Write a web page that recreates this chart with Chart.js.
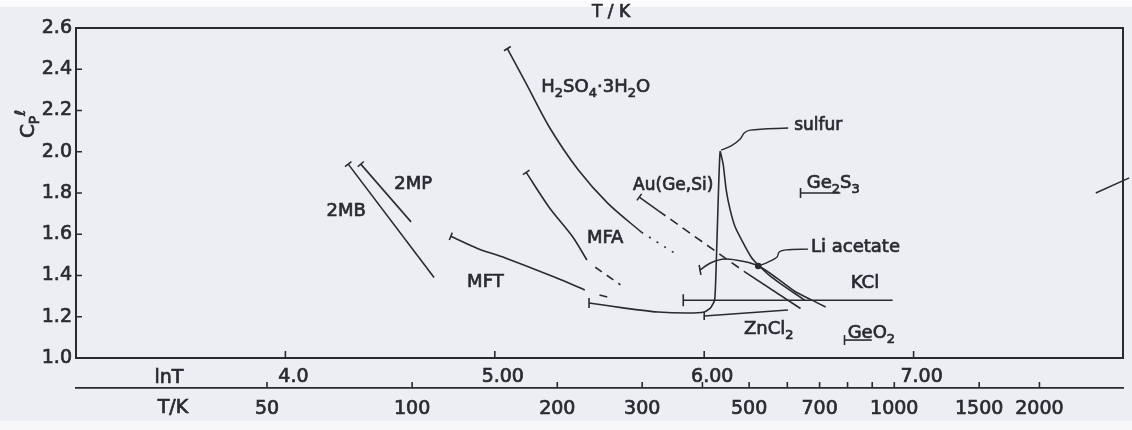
<!DOCTYPE html>
<html>
<head>
<meta charset="utf-8">
<script src="https://cdn.jsdelivr.net/npm/chart.js@4.4.1/dist/chart.umd.min.js"></script>
<style>
    html, body { margin: 0; padding: 0; }
    body {
        width: 1132px;
        height: 430px;
        background: linear-gradient(#fbfbfd 0, #fbfbfd 7px, #eceef3 7px, #eceef3 421px, #f7f7f9 421px);
    }
    canvas { display: block; }
</style>
</head>
<body>
<canvas id="grafico" width="1132" height="430"></canvas>
<script>
// Marcas del eje ln T y de la escala T/K
const lnTicks = [4, 5, 6, 7];
const lnTickLabels = ['4.0', '5.00', '6.00', '7.00'];
const tempTicks = [50, 100, 200, 300, 400, 500, 600, 700, 800, 900, 1000, 1500, 2000];
const tempTickLabels = ['50', '100', '200', '300', '', '500', '', '700', '', '', '1000', '1500', '2000'];
const cpTicks = [1.0, 1.2, 1.4, 1.6, 1.8, 2.0, 2.2, 2.4, 2.6];

// Cp(liq)/Cp(vidrio) frente a ln T
const mb2LnT = [4.30, 4.71];
const mb2Cp = [1.94, 1.39];
const mp2LnT = [4.36, 4.60];
const mp2Cp = [1.94, 1.66];
const mftLnT = [4.79, 4.92, 5.05, 5.29, 5.43];
const mftCp = [1.59, 1.53, 1.485, 1.39, 1.33];
const mftExtLnT = [5.50, 5.56];
const mftExtCp = [1.305, 1.29];
const mfaLnT = [5.15, 5.26, 5.37, 5.44];
const mfaCp = [1.90, 1.73, 1.59, 1.475];
const mfaExtLnT = [5.48, 5.60];
const mfaExtCp = [1.44, 1.355];
const h2so4LnT = [5.06, 5.15, 5.26, 5.40, 5.54, 5.70];
const h2so4Cp = [2.50, 2.33, 2.12, 1.91, 1.75, 1.61];
const h2so4ExtLnT = [5.70, 5.88];
const h2so4ExtCp = [1.61, 1.495];
const auLnT = [5.69, 5.78];
const auCp = [1.78, 1.715];
const auDashLnT = [5.78, 6.19];
const auDashCp = [1.715, 1.42];
const auTailLnT = [6.19, 6.46];
const auTailCp = [1.42, 1.24];
const sulfurLnT = [5.45, 5.62, 5.78, 5.92, 6.00, 6.03, 6.05, 6.057, 6.067, 6.076, 6.091, 6.105, 6.124, 6.148, 6.186, 6.224, 6.258, 6.32, 6.40, 6.48];
const sulfurCp = [1.267, 1.242, 1.223, 1.218, 1.223, 1.242, 1.281, 1.44, 1.77, 2.00, 1.936, 1.815, 1.718, 1.635, 1.558, 1.49, 1.451, 1.393, 1.335, 1.281];
const liAcLnT = [5.98, 6.03, 6.10, 6.19, 6.26, 6.35, 6.43, 6.51, 6.58];
const liAcCp = [1.427, 1.461, 1.48, 1.468, 1.446, 1.385, 1.325, 1.283, 1.247];
const kclLnT = [5.90, 6.90];
const kclCp = [1.28, 1.28];
const zncl2LnT = [6.00, 6.40];
const zncl2Cp = [1.204, 1.233];
const ge2s3LnT = [6.46, 6.65];
const ge2s3Cp = [1.80, 1.80];
const geo2LnT = [6.67, 6.80];
const geo2Cp = [1.087, 1.087];

// Líneas guía de las etiquetas y trazo en el borde derecho
const sulfurLeadLnT = [6.081, 6.129, 6.172, 6.191, 6.220, 6.401];
const sulfurLeadCp = [2.008, 2.028, 2.062, 2.091, 2.105, 2.115];
const liLeadLnT = [6.258, 6.305, 6.348, 6.358, 6.391, 6.496];
const liLeadCp = [1.446, 1.465, 1.490, 1.514, 1.524, 1.528];
const edgeLnT = [7.87, 8.03];
const edgeCp = [1.80, 1.873];

const INK = '#2a2a31';
const FONT = '"DejaVu Sans", sans-serif';

function pts(xs, ys) {
    return xs.map(function(x, i) { return { x: x, y: ys[i] }; });
}

// Curva con la marca de Tg en el primer punto
function curve(xs, ys, opts) {
    opts = opts || {};
    return {
        data: pts(xs, ys),
        showLine: true,
        borderColor: INK,
        borderWidth: opts.width || 1.6,
        borderDash: opts.dash || [],
        tension: opts.tension || 0,
        clip: opts.clip === undefined ? 0 : opts.clip,
        pointStyle: opts.cap === undefined ? 'circle' : 'line',
        rotation: opts.cap || 0,
        pointRadius: function(ctx) {
            if (opts.dot && ctx.dataIndex === 0) return 2.5;
            return (opts.cap !== undefined && ctx.dataIndex === 0) ? (opts.capSize || 5) : 0;
        },
        pointBorderColor: INK,
        pointBackgroundColor: INK,
        pointBorderWidth: 1.6
    };
}

// Texto con subíndices: [texto, 1] = subíndice, [texto, -1] = superíndice
function drawRich(ctx, parts, x, y, size, align) {
    const base = size + 'px ' + FONT;
    const small = Math.round(size * 0.72) + 'px ' + FONT;
    let width = 0;
    parts.forEach(function(p) {
        ctx.font = p[1] ? small : base;
        width += ctx.measureText(p[0]).width;
    });
    let cx = align === 'center' ? x - width / 2 : x;
    ctx.textAlign = 'left';
    ctx.textBaseline = 'middle';
    ctx.lineWidth = 0.7;
    ctx.strokeStyle = INK;
    parts.forEach(function(p) {
        ctx.font = p[1] ? small : base;
        const dy = p[1] === 1 ? size * 0.34 : (p[1] === -1 ? -size * 0.36 : 0);
        ctx.fillText(p[0], cx, y + dy);
        ctx.strokeText(p[0], cx, y + dy);
        cx += ctx.measureText(p[0]).width;
    });
}

// Nombres de las sustancias (anclados en coordenadas de datos)
const names = [
    { parts: [['2MB']], x: 4.29, y: 1.71, align: 'center', size: 18 },
    { parts: [['2MP']], x: 4.61, y: 1.84, align: 'center', size: 18 },
    { parts: [['MFT']], x: 4.955, y: 1.368, align: 'center', size: 18 },
    { parts: [['MFA']], x: 5.527, y: 1.582, align: 'center', size: 18 },
    { parts: [['H'], ['2', 1], ['SO'], ['4', 1], ['·3H'], ['2', 1], ['O']], x: 5.222, y: 2.31, align: 'left', size: 18 },
    { parts: [['Au(Ge,Si)']], x: 5.852, y: 1.834, align: 'center', size: 17 },
    { parts: [['sulfur']], x: 6.43, y: 2.125, align: 'left', size: 17 },
    { parts: [['Ge'], ['2', 1], ['S'], ['3', 1]], x: 6.49, y: 1.845, align: 'left', size: 18 },
    { parts: [['Li acetate']], x: 6.51, y: 1.535, align: 'left', size: 18 },
    { parts: [['KCl']], x: 6.70, y: 1.36, align: 'left', size: 18 },
    { parts: [['ZnCl'], ['2', 1]], x: 6.19, y: 1.14, align: 'left', size: 18 },
    { parts: [['GeO'], ['2', 1]], x: 6.685, y: 1.118, align: 'left', size: 18 }
];

// Marco, marcas hacia dentro y rótulos sueltos
const decor = {
    id: 'decor',
    afterDatasetsDraw: function(chart) {
        const ctx = chart.ctx;
        const area = chart.chartArea;
        const x = chart.scales.x;
        const y = chart.scales.y;
        const xT = chart.scales.xT;

        ctx.save();
        ctx.strokeStyle = INK;
        ctx.lineWidth = 2;
        ctx.strokeRect(area.left, area.top, area.right - area.left, area.bottom - area.top);

        ctx.lineWidth = 1.6;
        ctx.beginPath();
        cpTicks.forEach(function(v) {
            const py = y.getPixelForValue(v);
            ctx.moveTo(area.left, py);
            ctx.lineTo(area.left + 6, py);
        });
        lnTicks.forEach(function(v) {
            const px = x.getPixelForValue(v);
            ctx.moveTo(px, area.bottom);
            ctx.lineTo(px, area.bottom - 7);
        });
        tempTicks.forEach(function(t) {
            const px = xT.getPixelForValue(Math.log(t));
            ctx.moveTo(px, xT.top);
            ctx.lineTo(px, xT.top - 6);
        });
        ctx.stroke();

        ctx.fillStyle = INK;
        names.forEach(function(n) {
            drawRich(ctx, n.parts, x.getPixelForValue(n.x), y.getPixelForValue(n.y), n.size, n.align);
        });

        drawRich(ctx, [['lnT']], 169, 378, 19, 'center');
        drawRich(ctx, [['T/K']], 173, 408, 19, 'center');
        drawRich(ctx, [['T / K']], 611, 13, 17, 'center');

        ctx.translate(29, 124);
        ctx.rotate(-Math.PI / 2);
        drawRich(ctx, [['C'], ['P', 1], ['ℓ', -1]], 0, 0, 20, 'center');
        ctx.restore();
    }
};

const tickFont = { family: FONT, size: 19 };

new Chart(document.getElementById('grafico'), {
    type: 'scatter',
    data: {
        datasets: [
            curve(mb2LnT, mb2Cp, { cap: 143, capSize: 4 }),
            curve(mp2LnT, mp2Cp, { cap: 139, capSize: 4 }),
            curve(mftLnT, mftCp, { cap: 112, capSize: 4, tension: 0.3 }),
            curve(mftExtLnT, mftExtCp, { dash: [8, 6] }),
            curve(mfaLnT, mfaCp, { cap: 146, capSize: 4, tension: 0.3 }),
            curve(mfaExtLnT, mfaExtCp, { dash: [8, 6] }),
            curve(h2so4LnT, h2so4Cp, { cap: 148, capSize: 4, tension: 0.3 }),
            curve(h2so4ExtLnT, h2so4ExtCp, { dash: [2, 7] }),
            curve(auLnT, auCp, { cap: 125, capSize: 4 }),
            curve(auDashLnT, auDashCp, { dash: [9, 6] }),
            curve(auTailLnT, auTailCp, {}),
            curve(sulfurLnT, sulfurCp, { cap: 90, tension: 0.15 }),
            curve(liAcLnT, liAcCp, { cap: 80, tension: 0.3 }),
            curve(kclLnT, kclCp, { cap: 90, capSize: 6 }),
            curve(zncl2LnT, zncl2Cp, { cap: 90, capSize: 4 }),
            curve(ge2s3LnT, ge2s3Cp, { cap: 90 }),
            curve(geo2LnT, geo2Cp, { cap: 90 }),
            curve(sulfurLeadLnT, sulfurLeadCp, { width: 1.4, tension: 0.3 }),
            curve(liLeadLnT, liLeadCp, { width: 1.4, tension: 0.3, dot: true }),
            curve(edgeLnT, edgeCp, { width: 1.4, clip: false })
        ]
    },
    options: {
        responsive: false,
        animation: false,
        layout: { padding: { top: 28, right: 9, left: 0, bottom: 0 } },
        plugins: {
            legend: { display: false },
            tooltip: { enabled: false }
        },
        scales: {
            x: {
                type: 'linear',
                position: 'bottom',
                min: 3,
                max: 8,
                grid: { display: false, drawTicks: false },
                border: { display: false },
                afterBuildTicks: function(scale) {
                    scale.ticks = lnTicks.map(function(v) { return { value: v }; });
                },
                afterFit: function(scale) { scale.height = 30; },
                ticks: {
                    autoSkip: false,
                    maxRotation: 0,
                    padding: 8,
                    labelOffset: 8,
                    color: INK,
                    textStrokeColor: INK,
                    textStrokeWidth: 0.7,
                    font: tickFont,
                    callback: function(v, i) { return lnTickLabels[i]; }
                }
            },
            xT: {
                type: 'linear',
                position: 'bottom',
                weight: 1,
                min: 3,
                max: 8,
                grid: { display: false, drawTicks: false },
                border: { display: true, color: INK, width: 1.8 },
                afterBuildTicks: function(scale) {
                    scale.ticks = tempTicks.map(function(t) { return { value: Math.log(t) }; });
                },
                afterFit: function(scale) { scale.height = 42; },
                ticks: {
                    autoSkip: false,
                    maxRotation: 0,
                    padding: 10,
                    color: INK,
                    textStrokeColor: INK,
                    textStrokeWidth: 0.7,
                    font: tickFont,
                    callback: function(v, i) { return tempTickLabels[i]; }
                }
            },
            y: {
                type: 'linear',
                min: 1.0,
                max: 2.6,
                grid: { display: false, drawTicks: false },
                border: { display: false },
                afterBuildTicks: function(scale) {
                    scale.ticks = cpTicks.map(function(v) { return { value: v }; });
                },
                afterFit: function(scale) { scale.width = 76; },
                ticks: {
                    padding: 4,
                    color: INK,
                    textStrokeColor: INK,
                    textStrokeWidth: 0.7,
                    font: tickFont,
                    callback: function(v) { return v.toFixed(1); }
                }
            }
        }
    },
    plugins: [decor]
});
</script>
</body>
</html>
